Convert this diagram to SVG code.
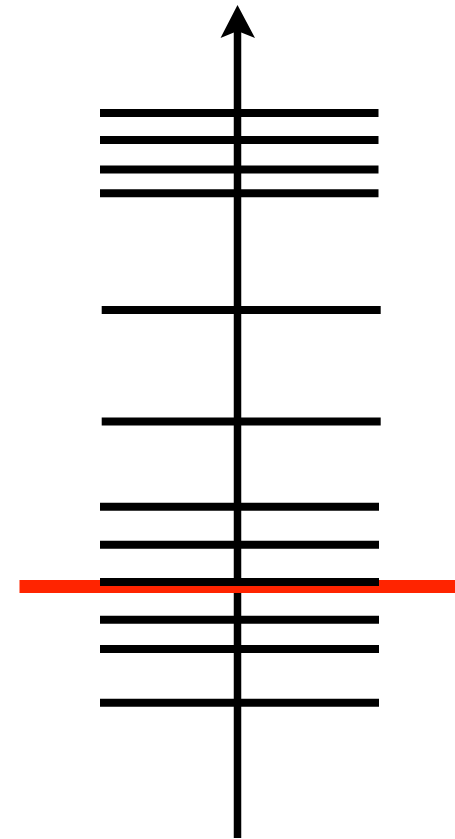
<svg xmlns="http://www.w3.org/2000/svg" width="455" height="839" viewBox="0 0 455 839">
<style>
.h{stroke:#000;stroke-width:8;fill:none}
.ax{stroke:#000;stroke-width:7.5;fill:none}
</style>
<rect width="455" height="839" fill="#fff"/>
<g id="connectors">
<line id="axis" class="ax" x1="237.5" y1="838" x2="237.5" y2="30"/>
<polygon id="arrowhead" points="237.5,5 255,38 237.5,31 220.5,38" fill="#000"/>
</g>
<g id="threshold">
<line x1="19.5" y1="586.5" x2="455" y2="586.5" stroke="#ff2400" stroke-width="13"/>
</g>
<g id="levels">
<line class="h" x1="100" y1="113" x2="378.5" y2="113"/>
<line class="h" x1="100" y1="140" x2="378.5" y2="140"/>
<line class="h" x1="100" y1="169.5" x2="378.5" y2="169.5"/>
<line class="h" x1="100" y1="193.3" x2="378.5" y2="193.3"/>
<line class="h" x1="101.7" y1="310" x2="380.7" y2="310"/>
<line class="h" x1="101.7" y1="421.5" x2="380.7" y2="421.5"/>
<line class="h" x1="100" y1="506.7" x2="379" y2="506.7"/>
<line class="h" x1="100" y1="544.7" x2="379" y2="544.7"/>
<line class="h" x1="100" y1="582" x2="379" y2="582"/>
<line class="h" x1="100" y1="619.7" x2="379" y2="619.7"/>
<line class="h" x1="100" y1="649" x2="379" y2="649"/>
<line class="h" x1="100" y1="702.7" x2="379" y2="702.7"/>
</g>
</svg>
